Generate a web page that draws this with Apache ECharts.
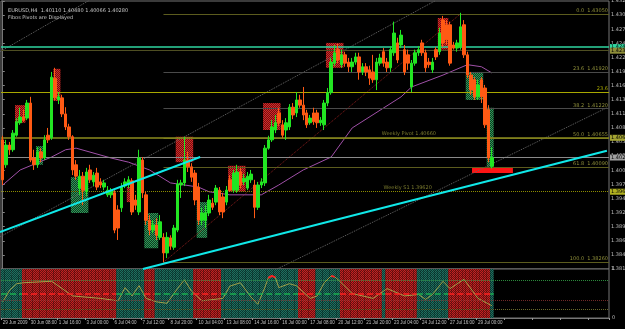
<!DOCTYPE html>
<html>
<head>
<meta charset="utf-8">
<title>EURUSD H4</title>
<script src="https://cdn.jsdelivr.net/npm/echarts@6/dist/echarts.min.js"></script>
<style>
  html, body { margin: 0; padding: 0; background: #000; }
  #chart { width: 625px; height: 329px; }
</style>
</head>
<body>
<div id="chart"></div>
<script>
// EURUSD H4, 29 Jun - 29 Jul 2009
const symbol = 'EURUSD,H4';
const tickLabels = ['29 Jun 2009', '30 Jun 08:00', '1 Jul 16:00', '3 Jul 00:00', '6 Jul 04:00', '7 Jul 12:00',
  '8 Jul 20:00', '10 Jul 04:00', '13 Jul 08:00', '14 Jul 16:00', '16 Jul 00:00', '17 Jul 08:00',
  '20 Jul 12:00', '21 Jul 20:00', '23 Jul 04:00', '24 Jul 12:00', '27 Jul 16:00', '29 Jul 00:00'];

const opens = [
  1.4062, 1.4014, 1.4052, 1.4043, 1.4071, 1.4095, 1.4106, 1.4104, 1.4133, 1.4027,
  1.4014, 1.4039, 1.4027, 1.4071, 1.4066, 1.4181, 1.4139, 1.4143, 1.4112, 1.4087,
  1.4068, 1.4014, 1.3969, 1.3992, 1.3962, 1.4004, 1.3981, 1.3998, 1.3981, 1.3971,
  1.3956, 1.3956, 1.3960, 1.3927, 1.3931, 1.3973, 1.3975, 1.3983, 1.3946, 1.3923,
  1.4023, 1.3956, 1.3907, 1.3888, 1.3898, 1.3874, 1.3874, 1.3844, 1.3873, 1.3855,
  1.3888, 1.3975, 1.3979, 1.4023, 1.4010, 1.3998, 1.3971, 1.3907, 1.3907, 1.3921,
  1.3940, 1.3942, 1.3965, 1.3952, 1.3942, 1.3985, 1.3965, 1.3965, 1.4000, 1.3981,
  1.3969, 1.3985, 1.3975, 1.3932, 1.3975, 1.3979, 1.4046, 1.4062, 1.4081, 1.4114,
  1.4091, 1.4081, 1.4087, 1.4125, 1.4114, 1.4139, 1.4129, 1.4114, 1.4095, 1.4114,
  1.4114, 1.4095, 1.4091, 1.4133, 1.4153, 1.4210, 1.4236, 1.4207, 1.4226, 1.4212,
  1.4203, 1.4212, 1.4222, 1.4193, 1.4203, 1.4197, 1.4193, 1.4178, 1.4210, 1.4232,
  1.4212, 1.4201, 1.4230, 1.4249, 1.4245, 1.4236, 1.4226, 1.4164, 1.4210, 1.4230,
  1.4249, 1.4230, 1.4212, 1.4197, 1.4236, 1.4232, 1.4293, 1.4284, 1.4284, 1.4245,
  1.4239, 1.4241, 1.4284, 1.4226, 1.4187, 1.4178, 1.4145, 1.4178, 1.4162, 1.4120,
  1.4011
];
const closes = [
  1.3985, 1.4052, 1.4043, 1.4075, 1.4097, 1.4106, 1.4100, 1.4133, 1.4023, 1.4014,
  1.4039, 1.4027, 1.4062, 1.4062, 1.4183, 1.4143, 1.4145, 1.4112, 1.4087, 1.4068,
  1.4004, 1.3992, 1.3992, 1.3965, 1.4000, 1.3985, 1.3994, 1.3971, 1.3975, 1.3979,
  1.3965, 1.3965, 1.3888, 1.3892, 1.3971, 1.3981, 1.3985, 1.3923, 1.3936, 1.4027,
  1.3960, 1.3907, 1.3888, 1.3898, 1.3878, 1.3904, 1.3844, 1.3874, 1.3857, 1.3892,
  1.3977, 1.3979, 1.4023, 1.4010, 1.3990, 1.3946, 1.3907, 1.3921, 1.3921, 1.3946,
  1.3932, 1.3969, 1.3923, 1.3923, 1.3965, 1.3965, 1.3998, 1.4000, 1.3975, 1.3988,
  1.3992, 1.3996, 1.3932, 1.3975, 1.3981, 1.4046, 1.4062, 1.4087, 1.4095, 1.4095,
  1.4071, 1.4095, 1.4125, 1.4110, 1.4139, 1.4129, 1.4110, 1.4091, 1.4104, 1.4097,
  1.4095, 1.4100, 1.4133, 1.4153, 1.4212, 1.4230, 1.4216, 1.4226, 1.4210, 1.4203,
  1.4212, 1.4222, 1.4193, 1.4203, 1.4193, 1.4181, 1.4178, 1.4212, 1.4220, 1.4210,
  1.4201, 1.4236, 1.4268, 1.4216, 1.4264, 1.4193, 1.4210, 1.4210, 1.4230, 1.4236,
  1.4230, 1.4201, 1.4207, 1.4212, 1.4222, 1.4268, 1.4249, 1.4255, 1.4210, 1.4239,
  1.4249, 1.4280, 1.4226, 1.4187, 1.4158, 1.4145, 1.4168, 1.4145, 1.4091, 1.4027,
  1.4028
];
const lows = [
  1.3975, 1.4008, 1.4033, 1.4039, 1.4068, 1.4091, 1.4097, 1.4100, 1.4019, 1.4004,
  1.4008, 1.4019, 1.4023, 1.4056, 1.4062, 1.4139, 1.4131, 1.4106, 1.4081, 1.4062,
  1.3994, 1.3985, 1.3956, 1.3936, 1.3954, 1.3979, 1.3973, 1.3965, 1.3969, 1.3965,
  1.3952, 1.3950, 1.3882, 1.3869, 1.3923, 1.3969, 1.3969, 1.3917, 1.3927, 1.3917,
  1.3950, 1.3898, 1.3878, 1.3882, 1.3869, 1.3869, 1.3826, 1.3834, 1.3850, 1.3850,
  1.3884, 1.3950, 1.3973, 1.4000, 1.3981, 1.3936, 1.3898, 1.3898, 1.3892, 1.3915,
  1.3927, 1.3936, 1.3917, 1.3911, 1.3936, 1.3962, 1.3960, 1.3960, 1.3969, 1.3975,
  1.3965, 1.3979, 1.3911, 1.3927, 1.3969, 1.3973, 1.4043, 1.4058, 1.4075, 1.4089,
  1.4066, 1.4062, 1.4081, 1.4102, 1.4106, 1.4124, 1.4100, 1.4085, 1.4091, 1.4091,
  1.4085, 1.4089, 1.4081, 1.4127, 1.4149, 1.4205, 1.4210, 1.4201, 1.4203, 1.4193,
  1.4193, 1.4207, 1.4178, 1.4187, 1.4185, 1.4168, 1.4172, 1.4158, 1.4205, 1.4203,
  1.4193, 1.4193, 1.4224, 1.4210, 1.4239, 1.4187, 1.4197, 1.4154, 1.4205, 1.4224,
  1.4224, 1.4193, 1.4201, 1.4191, 1.4216, 1.4226, 1.4241, 1.4245, 1.4205, 1.4236,
  1.4232, 1.4236, 1.4220, 1.4181, 1.4149, 1.4139, 1.4139, 1.4133, 1.4085, 1.4019,
  1.40066
];
const highs = [
  1.4070, 1.4062, 1.4058, 1.4081, 1.4104, 1.4124, 1.4120, 1.4139, 1.4145, 1.4043,
  1.4048, 1.4046, 1.4071, 1.4085, 1.4193, 1.4201, 1.4153, 1.4149, 1.4125, 1.4093,
  1.4071, 1.4023, 1.4004, 1.4000, 1.4008, 1.4014, 1.4000, 1.4008, 1.3988, 1.3985,
  1.3973, 1.3969, 1.3965, 1.3936, 1.3979, 1.3988, 1.3992, 1.3988, 1.3956, 1.4043,
  1.4029, 1.3962, 1.3917, 1.3907, 1.3911, 1.3917, 1.3882, 1.3884, 1.3878, 1.3898,
  1.3985, 1.3985, 1.4068, 1.4039, 1.4017, 1.4004, 1.3979, 1.3931, 1.3936, 1.3956,
  1.3950, 1.3975, 1.3971, 1.3960, 1.3973, 1.3994, 1.4004, 1.4014, 1.4008, 1.3996,
  1.4000, 1.4004, 1.3985, 1.3981, 1.3988, 1.4052, 1.4070, 1.4100, 1.4110, 1.4124,
  1.4100, 1.4104, 1.4131, 1.4133, 1.4154, 1.4149, 1.4164, 1.4120, 1.4110, 1.4124,
  1.4120, 1.4106, 1.4139, 1.4162, 1.4220, 1.4245, 1.4247, 1.4236, 1.4232, 1.4220,
  1.4220, 1.4230, 1.4230, 1.4210, 1.4210, 1.4205, 1.4226, 1.4220, 1.4228, 1.4239,
  1.4220, 1.4243, 1.4290, 1.4259, 1.4274, 1.4245, 1.4236, 1.4216, 1.4236, 1.4243,
  1.4255, 1.4236, 1.4220, 1.4220, 1.4241, 1.4278, 1.4301, 1.4293, 1.4290, 1.4251,
  1.4255, 1.4307, 1.4293, 1.4232, 1.4193, 1.4183, 1.4178, 1.4183, 1.4168, 1.4129,
  1.4048
];

// moving average, [bar, price]
const maPoints = [[0, 1.3975], [5, 1.4004], [14, 1.4029], [18, 1.4043], [21, 1.4046], [31, 1.4027],
  [36, 1.4019], [42, 1.4004], [48, 1.3979], [56, 1.3971], [59, 1.3962], [65, 1.3956], [74, 1.3956],
  [79, 1.3975], [86, 1.4004], [94, 1.4029], [100, 1.4085], [114, 1.4145], [117, 1.4164],
  [126, 1.4187], [133, 1.4207], [137, 1.4203], [140, 1.4191]];

// supply (0) / demand (1) boxes: [fromBar, toBar, topPrice, bottomPrice, kind]
const zones = [
  [3.5, 6.5, 1.4129, 1.4095, 0], [14.5, 16.5, 1.4199, 1.4137, 0], [9.5, 11.5, 1.4050, 1.4014, 1],
  [19.5, 24.5, 1.3990, 1.3921, 1], [35.5, 37.5, 1.3971, 1.3942, 0], [40.5, 44.5, 1.3921, 1.3853, 1],
  [49.5, 54.5, 1.4068, 1.4019, 0], [55.5, 58.5, 1.3942, 1.3873, 1], [64.5, 69.5, 1.4012, 1.3962, 0],
  [74.5, 79.5, 1.4133, 1.4081, 0], [92.5, 97.5, 1.4249, 1.4201, 0], [124.5, 127.5, 1.4297, 1.4236, 0],
  [132.5, 137.5, 1.4193, 1.4139, 1], [138.5, 140.5, 1.4124, 1.4010, 1]
];
const targetBox = [134.3, 146.0, 1.4008, 1.3998];

// trend lines [bar, price, bar, price]
const cyanLines = [[-0.8, 1.3884, 56.5, 1.4029], [40.1, 1.3813, 172.9, 1.4041]];
const channelLines = [[-0.8, 1.3875, 123.7, 1.4330], [-0.8, 1.4232, 25, 1.4332], [77.9, 1.3811, 172.9, 1.4124]];

const fibLow = 1.3826, fibHigh = 1.4305, fibLowBar = 46, fibHighBar = 131;
const fibRatios = [0, 23.6, 38.2, 50, 61.8, 100];
const weeklyPivot = 1.4066, weeklyS1 = 1.3962;
const upperLevel = 1.4241, upperLevel2 = 1.4234, midLevel = 1.4154;

// oscillator panel
const trendBands = [[0, 5, 1], [6, 32, 0], [33, 40, 1], [41, 43, 0], [44, 54, 1], [55, 62, 0],
  [63, 84, 1], [85, 89, 0], [90, 96, 1], [97, 108, 0], [109, 109, 1], [110, 118, 0],
  [119, 127, 1], [128, 139, 0], [140, 140, 1]];
const oscPoints = [[0, 0.33], [2, 0.57], [4, 0.70], [6, 0.72], [14, 0.75], [20, 0.45], [28, 0.40],
  [33, 0.35], [35, 0.62], [37, 0.45], [39, 0.66], [41, 0.40], [44, 0.33], [47, 0.30], [50, 0.60],
  [52, 0.78], [54, 0.55], [57, 0.35], [63, 0.40], [65, 0.65], [68, 0.72], [71, 0.43], [73, 0.28],
  [75, 0.62], [76, 0.82], [77, 0.86], [78, 0.83], [79, 0.62], [82, 0.70], [84, 0.66], [88, 0.40],
  [90, 0.45], [92, 0.72], [94, 0.86], [95, 0.84], [96, 0.78], [100, 0.50], [106, 0.40], [110, 0.60],
  [115, 0.45], [119, 0.48], [121, 0.38], [123, 0.48], [126, 0.75], [128, 0.60], [132, 0.79],
  [136, 0.40], [140, 0.25]];
const oscLevels = [0.78, 0.37, 0.17];

// scale: right-hand price labels every 0.00272 from the bottom edge
const BASE = 1.38130, STEP = 0.00272, STEPS = 19, SLOTS = 174;

const chart = echarts.init(document.getElementById('chart'), null, { renderer: 'canvas' });
const FONT = 'DejaVu Sans';
const NARROW = "'Liberation Sans Narrow', 'Liberation Sans', sans-serif";
const up = '#22e622', down = '#ff5a14';
const off = p => +(p - BASE).toFixed(6);
const fmt = p => p.toFixed(5);
const last = opens.length - 1;

function dots(a, b) {
  const c = document.createElement('canvas');
  c.width = 2; c.height = 2;
  const g = c.getContext('2d');
  g.fillStyle = b; g.fillRect(0, 0, 2, 2);
  g.fillStyle = a; g.fillRect(0, 0, 1, 1); g.fillRect(1, 1, 1, 1);
  return { image: c, repeat: 'repeat' };
}
const redDots = dots('#d82828', '#701212');
const greenDots = dots('#2f9a58', '#0f3a22');
const bandRed = dots('#c42222', '#6a1010');
const bandTeal = dots('#1f7060', '#0c3a32');

const categories = [];
for (let i = 0; i < SLOTS; i++) categories.push(i % 8 === 0 && tickLabels[i / 8] ? tickLabels[i / 8] : '');

const candleData = opens.map((o, i) => [off(o), off(closes[i]), off(lows[i]), off(highs[i])]);
const bandState = [];
trendBands.forEach(([a, b, s]) => { for (let i = a; i <= b; i++) bandState[i] = s; });

const zoneData = zones.map(z => [z[0], z[1], off(z[2]), off(z[3]), z[4]]);
zoneData.push([targetBox[0], targetBox[1], off(targetBox[2]), off(targetBox[3]), 2]);

function zoneItem(params, api) {
  const a = api.coord([api.value(0), api.value(2)]);
  const b = api.coord([api.value(1), api.value(3)]);
  const kind = api.value(4);
  return {
    type: 'rect',
    shape: { x: a[0], y: a[1], width: b[0] - a[0], height: b[1] - a[1] },
    style: { fill: kind === 1 ? greenDots : kind === 0 ? redDots : '#ff1414' }
  };
}

const small = { fontFamily: FONT, fontSize: 5 };
function boxLabel(price, bg) {
  return { show: true, position: 'end', distance: 1, formatter: fmt(price), color: '#000',
    backgroundColor: bg, padding: [1, 1, 0, 1], ...small };
}

const fibMarks = fibRatios.map(r => {
  const p = fibHigh - (fibHigh - fibLow) * r / 100;
  return [
    { coord: [fibLowBar, off(p)], lineStyle: { color: r === 23.6 || r === 38.2 ? '#4a4a4a' : '#5c5c1e', width: 1, type: 'solid' },
      label: { show: true, position: 'insideEndTop', distance: 1, formatter: r.toFixed(1) + '  ' + fmt(p), color: '#8f8f3a', ...small } },
    { coord: [SLOTS - 0.5, off(p)] }
  ];
});
const levelMarks = [
  { yAxis: off(upperLevel), lineStyle: { color: '#2fd6a0', width: 1.5, type: 'solid' }, label: boxLabel(upperLevel, '#2fd6a0') },
  { yAxis: off(upperLevel2), lineStyle: { color: '#4e4e22', width: 1, type: 'solid' }, label: boxLabel(upperLevel2, '#8f8f3a') },
  { yAxis: off(midLevel), lineStyle: { color: '#a8a800', width: 1, type: 'solid' },
    label: { show: true, position: 'insideEndTop', distance: 1, formatter: '23.6', color: '#a8a800', ...small } },
  { yAxis: off(weeklyPivot), lineStyle: { color: '#8c8c1e', width: 1.5, type: 'solid' }, label: boxLabel(weeklyPivot, '#a4a432') },
  { yAxis: off(closes[last]), lineStyle: { color: '#8a8a8a', width: 1, type: 'solid' }, label: boxLabel(closes[last], '#a0a0a0') },
  { yAxis: off(weeklyS1), lineStyle: { color: '#8c8c00', width: 1, type: 'dotted' }, label: boxLabel(weeklyS1, '#b0b020') }
];

const lineSeries = (pts, color, width, type, z) => ({
  type: 'line', xAxisIndex: 1, yAxisIndex: 0, data: [[pts[0], off(pts[1])], [pts[2], off(pts[3])]],
  symbol: 'none', silent: true, z: z, lineStyle: { color: color, width: width, type: type }
});

// oscillator helpers: dashed mid line per band, red where overbought
const midMarks = trendBands.map(([a, b, s]) => [
  { coord: [a - 0.5, 0.5], lineStyle: { color: s ? '#18b050' : '#ff2020', width: 1.5, type: [6, 3] } },
  { coord: [b + 0.5, 0.5] }
]);
const levelLines = oscLevels.map((v, k) => ({
  yAxis: v, lineStyle: { color: ['#2a8a3a', '#702828', '#6a6a2a'][k], type: 'dotted', width: 1 }
}));
const hotPoints = oscPoints.map(p => (p[1] >= 0.8 ? p : [p[0], null]));

const series = [
  { type: 'custom', xAxisIndex: 1, yAxisIndex: 0, renderItem: zoneItem, data: zoneData, z: 1, silent: true,
    encode: { x: [0, 1], y: [2, 3] } },
  {
    type: 'line', xAxisIndex: 1, yAxisIndex: 0, symbol: 'none', silent: true, z: 2,
    data: [[fibLowBar, off(fibLow)], [fibHighBar, off(fibHigh)]],
    lineStyle: { color: '#8a1c1c', width: 1, type: 'dotted' },
    markLine: { silent: true, symbol: ['none', 'none'], animation: false, precision: 6, label: { show: false },
      data: fibMarks.concat(levelMarks) }
  },
  ...channelLines.map(l => lineSeries(l, '#666666', 1, 'dotted', 2)),
  { type: 'line', xAxisIndex: 1, yAxisIndex: 0, symbol: 'none', silent: true, z: 3,
    data: maPoints.map(p => [p[0], off(p[1])]), lineStyle: { color: '#a050a8', width: 1 } },
  {
    type: 'candlestick', xAxisIndex: 0, yAxisIndex: 0, data: candleData, z: 5, barWidth: 3,
    itemStyle: { color: up, color0: down, borderColor: up, borderColor0: down, borderWidth: 1 }
  },
  ...cyanLines.map(l => lineSeries(l, '#10e8e8', 2, 'solid', 6)),
  {
    type: 'scatter', xAxisIndex: 1, yAxisIndex: 0, symbolSize: 0, silent: true, z: 6,
    data: [[108.5, off(weeklyPivot), 'Weekly Pivot ' + fmt(weeklyPivot)], [109, off(weeklyS1), 'Weekly S1 ' + fmt(weeklyS1)]],
    label: { show: true, position: 'right', distance: 0, offset: [0, -4], color: '#9a9a3a', ...small,
      formatter: p => p.data[2] }
  },
  // oscillator panel
  {
    type: 'bar', xAxisIndex: 2, yAxisIndex: 1, barWidth: '100%', barCategoryGap: '0%', silent: true, z: 1,
    data: bandState.map(s => ({ value: 1, itemStyle: { color: s ? bandTeal : bandRed } }))
  },
  {
    type: 'line', xAxisIndex: 3, yAxisIndex: 1, symbol: 'none', silent: true, z: 4,
    data: oscPoints, lineStyle: { color: '#a0a048', width: 1 },
    markLine: { silent: true, symbol: ['none', 'none'], animation: false, precision: 4, label: { show: false },
      data: levelLines.concat(midMarks) }
  },
  { type: 'line', xAxisIndex: 3, yAxisIndex: 1, symbol: 'none', silent: true, z: 5,
    data: hotPoints, lineStyle: { color: '#ff2020', width: 2 } }
];

const option = {
  backgroundColor: '#000',
  animation: false,
  title: {
    left: 3, top: 2,
    text: symbol + '  ' + [opens[last], highs[last], lows[last]].map(fmt).join(' ') + ' ' + fmt(closes[last]) + '\nFibos Pivots are Displayed',
    textStyle: { color: '#c8c8c8', fontFamily: FONT, fontSize: 5, fontWeight: 'normal', lineHeight: 7 }
  },
  grid: [
    { left: 1, right: 16, top: 1, height: 268, outerBoundsMode: 'none', containLabel: false,
      show: true, borderColor: '#777', borderWidth: 1, backgroundColor: '#000' },
    { left: 1, right: 16, top: 269, height: 49, outerBoundsMode: 'none', containLabel: false,
      show: true, borderColor: '#777', borderWidth: 1, backgroundColor: '#000' }
  ],
  xAxis: [
    { type: 'category', gridIndex: 0, data: categories, show: false },
    { type: 'value', gridIndex: 0, min: -0.5, max: SLOTS - 0.5, show: false },
    {
      type: 'category', gridIndex: 1, data: categories,
      axisLine: { lineStyle: { color: '#777' } },
      axisTick: { show: true, length: 2, interval: i => i % 8 === 0, lineStyle: { color: '#999' } },
      axisLabel: { interval: i => i % 8 === 0, showMinLabel: true, hideOverlap: false, align: 'left', margin: 2,
        color: '#c0c0c0', fontFamily: NARROW, fontSize: 4.5 }
    },
    { type: 'value', gridIndex: 1, min: -0.5, max: SLOTS - 0.5, show: false }
  ],
  yAxis: [
    {
      type: 'value', gridIndex: 0, position: 'right', min: 0, max: +(STEP * STEPS).toFixed(6), interval: STEP,
      splitLine: { show: false }, axisLine: { show: true, lineStyle: { color: '#777' } },
      axisTick: { show: true, length: 2, lineStyle: { color: '#888' } },
      axisLabel: { margin: 2, color: '#bdbdbd', ...small, formatter: v => fmt(BASE + v) }
    },
    {
      type: 'value', gridIndex: 1, position: 'right', min: 0, max: 1, interval: 1,
      splitLine: { show: false }, axisLine: { show: true, lineStyle: { color: '#777' } },
      axisTick: { show: false }, axisLabel: { margin: 3, color: '#bdbdbd', ...small }
    }
  ],
  graphic: [
    { type: 'text', left: 5, top: 271, style: { text: 'MKT-Ind', fill: '#c0c0c0', font: '5px ' + FONT } }
  ],
  series: series
};

chart.setOption(option);
window.addEventListener('resize', () => chart.resize());
</script>
</body>
</html>
